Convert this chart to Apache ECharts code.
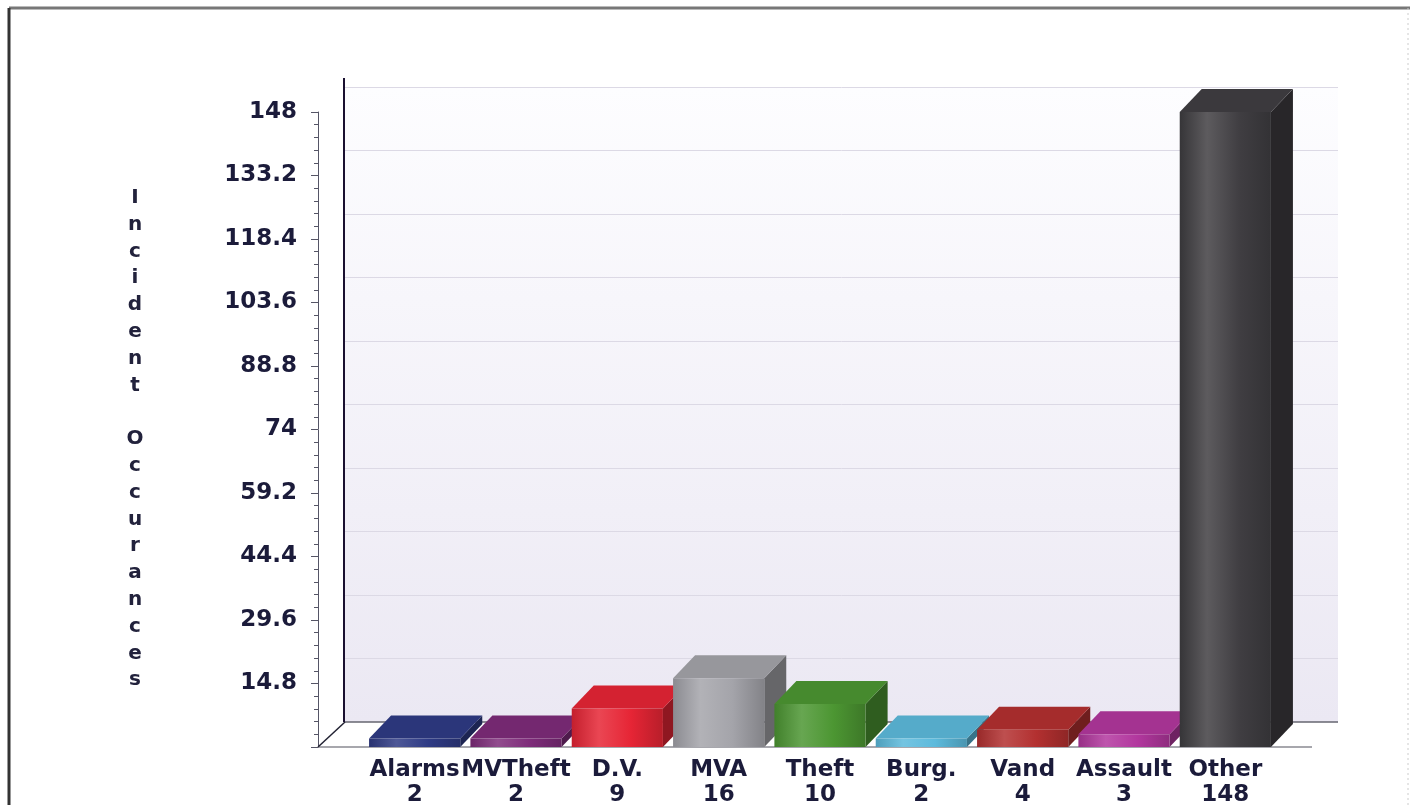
<!DOCTYPE html>
<html>
<head>
<meta charset="utf-8">
<script src="https://cdn.jsdelivr.net/npm/echarts@6/dist/echarts.min.js"></script>
<style>
html,body{margin:0;padding:0;background:#fff;}
#chart{width:1419px;height:805px;}
</style>
</head>
<body>
<div id="chart"></div>
<script>
const categories = ['Alarms', 'MVTheft', 'D.V.', 'MVA', 'Theft', 'Burg.', 'Vand', 'Assault', 'Other'];
const counts = [2, 2, 9, 16, 10, 2, 4, 3, 148];
const barColors = ['#2f3b85', '#7e2c7a', '#e62535', '#a4a4aa', '#4c9632', '#5cbadc', '#b33030', '#b2379e', '#403e42'];
const yMax = 148;
const yStep = 14.8;
const axisTitle = 'Incident Occurances';

function shade(hex, f) {
  const n = parseInt(hex.slice(1), 16);
  let r = (n >> 16) & 255, g = (n >> 8) & 255, b = n & 255;
  const adj = v => {
    let o = f >= 1 ? v + (255 - v) * (f - 1) : v * f;
    return Math.max(0, Math.min(255, Math.round(o)));
  };
  return 'rgb(' + adj(r) + ',' + adj(g) + ',' + adj(b) + ')';
}

const chart = echarts.init(document.getElementById('chart'));

const DX = 22, DY = 23;

const option = {
  animation: false,
  backgroundColor: '#ffffff',
  grid: [
    { left: 364, right: 143, top: 112, bottom: 58, show: false, outerBoundsMode: 'none', containLabel: false },
    { left: 345, right: 81, top: 87, bottom: 83, show: true, borderWidth: 0, outerBoundsMode: 'none', containLabel: false,
      backgroundColor: new echarts.graphic.LinearGradient(0, 0, 0, 1, [
        { offset: 0, color: '#fdfdff' },
        { offset: 1, color: '#ebe8f3' }
      ]) }
  ],
  xAxis: [
    { type: 'category', gridIndex: 0, data: categories, boundaryGap: true,
      axisLine: { show: false }, axisTick: { show: false },
      axisLabel: { interval: 0, margin: 11,
        formatter: (v, i) => v + '\n' + counts[i],
        fontFamily: 'DejaVu Sans', fontWeight: 'bold', fontSize: 23, lineHeight: 25, color: '#1b1b3a' } },
    { type: 'category', gridIndex: 1, data: categories, show: false }
  ],
  yAxis: [
    { type: 'value', gridIndex: 0, min: 0, max: yMax, interval: yStep, offset: 46,
      axisLine: { show: true, lineStyle: { color: '#555566', width: 1 } },
      axisTick: { show: true, length: 7, lineStyle: { color: '#555566' } },
      minorTick: { show: true, splitNumber: 5, length: 4, lineStyle: { color: '#555566' } },
      splitLine: { show: false },
      axisLabel: { margin: 21, fontFamily: 'DejaVu Sans', fontWeight: 'bold', fontSize: 23, color: '#1b1b3a',
        formatter: v => v === 0 ? '' : String(parseFloat(v.toFixed(1))) } },
    { type: 'value', gridIndex: 1, min: 0, max: yMax, interval: yStep,
      axisLine: { show: false }, axisTick: { show: false }, axisLabel: { show: false },
      splitLine: { show: true, lineStyle: { color: '#dcd9e5', width: 1 } } }
  ],
  graphic: [
    { type: 'line', z: 1, shape: { x1: 9, y1: 8, x2: 1410, y2: 8 }, style: { stroke: '#777777', lineWidth: 3 } },
    { type: 'line', z: 1, shape: { x1: 9, y1: 8, x2: 9, y2: 805 }, style: { stroke: '#333333', lineWidth: 3 } },
    { type: 'line', z: 1, shape: { x1: 1408, y1: 8, x2: 1408, y2: 805 }, style: { stroke: '#cccccc', lineWidth: 1, lineDash: [2, 3] } },
    { type: 'polygon', z: 1, shape: { points: [[318, 747], [345, 722], [1338, 722], [1312, 747]] }, style: { fill: '#ffffff' } },
    { type: 'line', z: 1, shape: { x1: 345, y1: 722, x2: 1338, y2: 722 }, style: { stroke: '#666670', lineWidth: 1.5 } },
    { type: 'line', z: 1, shape: { x1: 318, y1: 747, x2: 1312, y2: 747 }, style: { stroke: '#8a8a92', lineWidth: 1.5 } },
    { type: 'line', z: 1, shape: { x1: 318, y1: 747, x2: 345, y2: 722 }, style: { stroke: '#222233', lineWidth: 1.5 } },
    { type: 'line', z: 1, shape: { x1: 344, y1: 78, x2: 344, y2: 722 }, style: { stroke: '#1a1030', lineWidth: 2 } },
    { type: 'text', z: 1, x: 135, y: 439,
      style: { text: axisTitle.split('').join('\n'), fontFamily: 'DejaVu Sans', fontWeight: 'bold', fontSize: 20, lineHeight: 26.8,
        align: 'center', verticalAlign: 'middle', fill: '#22223c' } }
  ],
  series: [
    {
      type: 'custom', xAxisIndex: 0, yAxisIndex: 0, z: 5,
      encode: { x: 0, y: 1 },
      data: counts.map((v, i) => [i, v]),
      renderItem: function (params, api) {
        const idx = api.value(0);
        const val = api.value(1);
        const top = api.coord([idx, val]);
        const base = api.coord([idx, 0]);
        const bw = api.size([1, 0])[0] * 0.9;
        const x0 = top[0] - bw / 2, x1 = top[0] + bw / 2;
        const yT = top[1], yB = base[1];
        const c = barColors[idx];
        const front = new echarts.graphic.LinearGradient(0, 0, 1, 0, [
          { offset: 0, color: shade(c, 0.85) },
          { offset: 0.3, color: shade(c, 1.15) },
          { offset: 0.65, color: shade(c, 1.0) },
          { offset: 1, color: shade(c, 0.8) }
        ]);
        return {
          type: 'group',
          children: [
            { type: 'polygon', shape: { points: [[x1, yB], [x1, yT], [x1 + DX, yT - DY], [x1 + DX, yB - DY]] },
              style: { fill: shade(c, 0.62) } },
            { type: 'polygon', shape: { points: [[x0, yT], [x0 + DX, yT - DY], [x1 + DX, yT - DY], [x1, yT]] },
              style: { fill: shade(c, 0.92) } },
            { type: 'rect', shape: { x: x0, y: yT, width: bw, height: yB - yT }, style: { fill: front } }
          ]
        };
      }
    }
  ]
};

chart.setOption(option);
</script>
</body>
</html>
